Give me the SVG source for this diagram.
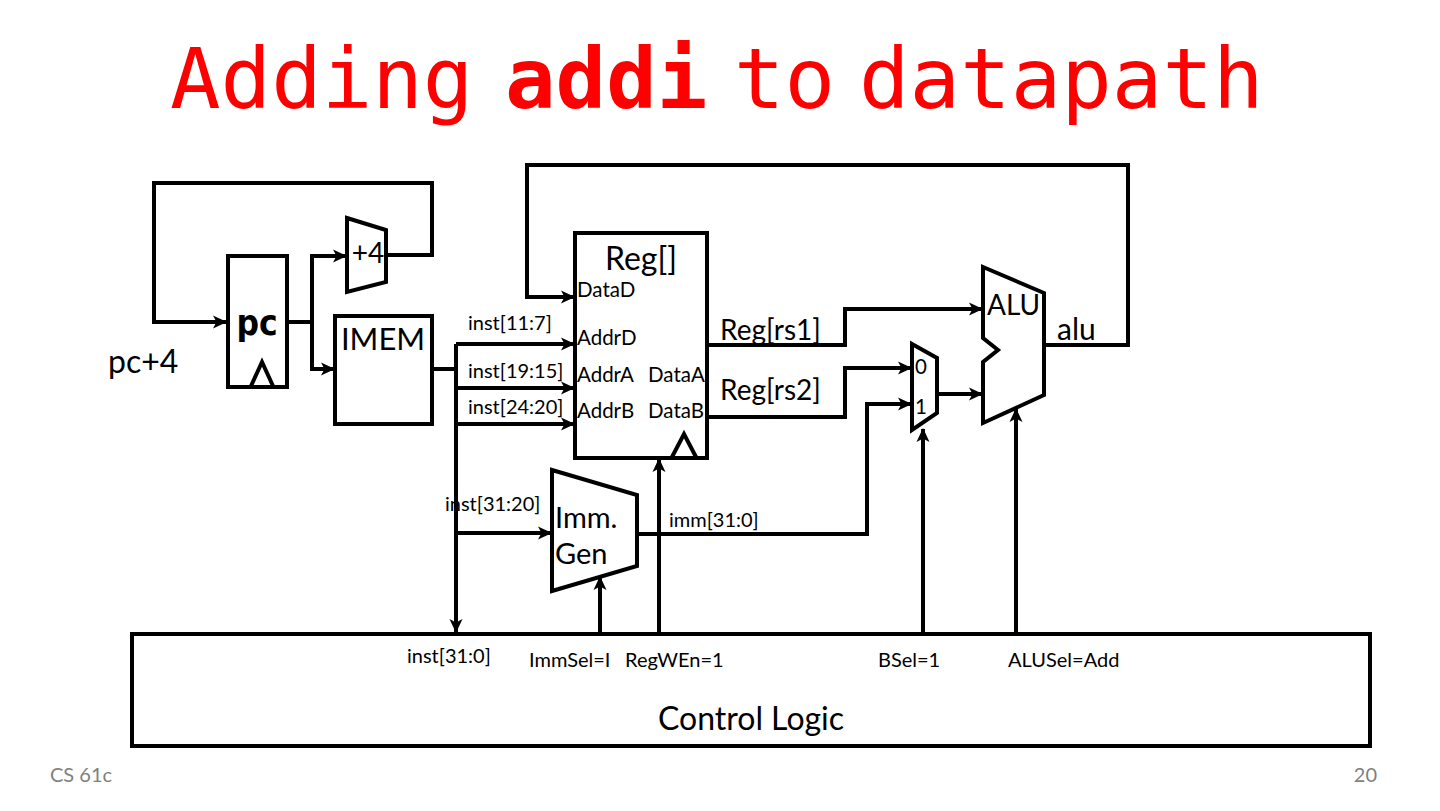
<svg xmlns="http://www.w3.org/2000/svg" width="1440" height="811" viewBox="0 0 1440 811">
<style>
.w{fill:none;stroke:#000;stroke-width:4;stroke-linejoin:miter}
.a{marker-end:url(#ah)}
.sh{fill:#fff;stroke:#000;stroke-width:4;stroke-linejoin:miter}
.t{font-family:Lato,"Liberation Sans",sans-serif;fill:#000}
.s{font-size:20px}
.m{font-size:20.5px}
.l{font-size:28px}
.title{font-family:"DejaVu Sans Mono","Liberation Mono",monospace;font-size:84px;fill:#FF0000}
.ft{font-family:Lato,"Liberation Sans",sans-serif;font-size:20px;fill:#808080}
</style>
<defs>
<marker id="ah" markerUnits="userSpaceOnUse" markerWidth="16" markerHeight="16" refX="13" refY="8" orient="auto">
<path d="M0,1.5 L14,8 L0,14.5 L3.5,8 Z" fill="#000"/>
</marker>
</defs>
<rect width="1440" height="811" fill="#fff"/>
<g id="title">
<text class="title" x="170" y="108">Adding</text>
<text class="title" x="505" y="108" font-weight="bold">addi</text>
<text class="title" x="734" y="108">to</text>
<text class="title" x="859" y="108">datapath</text>
</g>

<g id="connectors">
<path class="w a" d="M386,255 H432 V183 H154 V322 H226"/>
<path class="w a" d="M287,322 H312 V256 H346"/>
<path class="w a" d="M312,322 V369 H334"/>
<path class="w" d="M432,369 H456"/>
<path class="w a" d="M456,344 V632"/>
<path class="w a" d="M456,344 H574"/>
<path class="w a" d="M456,388 H574"/>
<path class="w a" d="M456,424 H574"/>
<path class="w a" d="M456,533 H551"/>
<path class="w a" d="M1044,345 H1128 V165 H527 V297 H574"/>
<path class="w a" d="M707,345 H845 V309 H982"/>
<path class="w a" d="M707,417 H845 V368 H911"/>
<path class="w a" d="M937,394 H982"/>
<path class="w a" d="M637,534 H867 V404 H911"/>
<path class="w a" d="M600,633 V577"/>
<path class="w a" d="M659,633 V459"/>
<path class="w a" d="M923,633 V429"/>
<path class="w a" d="M1016,633 V409"/>
</g>

<g id="pc">
<rect class="sh" x="228" y="256" width="59" height="131"/>
<text x="257" y="335" text-anchor="middle" font-family="'DejaVu Sans Condensed','DejaVu Sans',sans-serif" font-weight="bold" font-size="35">pc</text>
<path class="w" d="M251,386 L262,362 L273,386" stroke-width="4.5"/>
</g>
<g id="plus4">
<path class="sh" d="M347,218 L386,230 L386,282 L347,292 Z"/>
<text class="t l" x="368" y="263" text-anchor="middle">+4</text>
</g>
<g id="imem">
<rect class="sh" x="335" y="316" width="97" height="108"/>
<text class="t" x="383" y="350" text-anchor="middle" font-size="31">IMEM</text>
</g>
<g id="regfile">
<rect class="sh" x="575" y="233" width="132" height="225"/>
<text class="t" x="641" y="270" text-anchor="middle" font-size="32">Reg[]</text>
<text class="t m" x="577" y="297">DataD</text>
<text class="t m" x="577" y="345">AddrD</text>
<text class="t m" x="577" y="382">AddrA</text>
<text class="t m" x="648" y="382">DataA</text>
<text class="t m" x="577" y="418">AddrB</text>
<text class="t m" x="648" y="418">DataB</text>
<path class="w" d="M672,457 L684,434 L696,457" stroke-width="4.5"/>
</g>
<g id="immgen">
<path class="sh" d="M552,470 L637,495 L637,566 L552,591 Z"/>
<text class="t" x="555" y="528" font-size="29">Imm.</text>
<text class="t" x="555" y="564" font-size="29">Gen</text>
</g>
<g id="bmux">
<path class="sh" d="M912,344 L937,358 L937,413 L912,430 Z"/>
<text class="t m" x="915" y="374">0</text>
<text class="t m" x="915" y="414">1</text>
</g>
<g id="alu">
<path class="sh" d="M983,267 L1044,293 L1044,395 L983,423 L983,362 L998,350 L983,338 Z"/>
<text class="t l" x="987" y="315">ALU</text>
</g>
<g id="control">
<rect class="sh" x="132" y="634" width="1238" height="112" fill="none"/>
<text class="t" x="751" y="730" text-anchor="middle" font-size="32">Control Logic</text>
</g>

<g id="labels">
<text class="t" x="108" y="373" font-size="32">pc+4</text>
<text class="t s" x="468" y="330">inst[11:7]</text>
<text class="t s" x="468" y="378">inst[19:15]</text>
<text class="t s" x="468" y="414">inst[24:20]</text>
<text class="t s" x="445" y="511">inst[31:20]</text>
<text class="t s" x="669" y="527">imm[31:0]</text>
<text class="t l" x="720" y="340">Reg[rs1]</text>
<text class="t l" x="720" y="400">Reg[rs2]</text>
<text class="t" x="1057" y="340" font-size="30">alu</text>
<text class="t s" x="407" y="663">inst[31:0]</text>
<text class="t s" x="529" y="667">ImmSel=I</text>
<text class="t s" x="625" y="667">RegWEn=1</text>
<text class="t s" x="878" y="667">BSel=1</text>
<text class="t s" x="1008" y="667">ALUSel=Add</text>
</g>
<text class="ft" x="50" y="782">CS 61c</text>
<text class="ft" x="1377" y="782" text-anchor="end">20</text>
</svg>
